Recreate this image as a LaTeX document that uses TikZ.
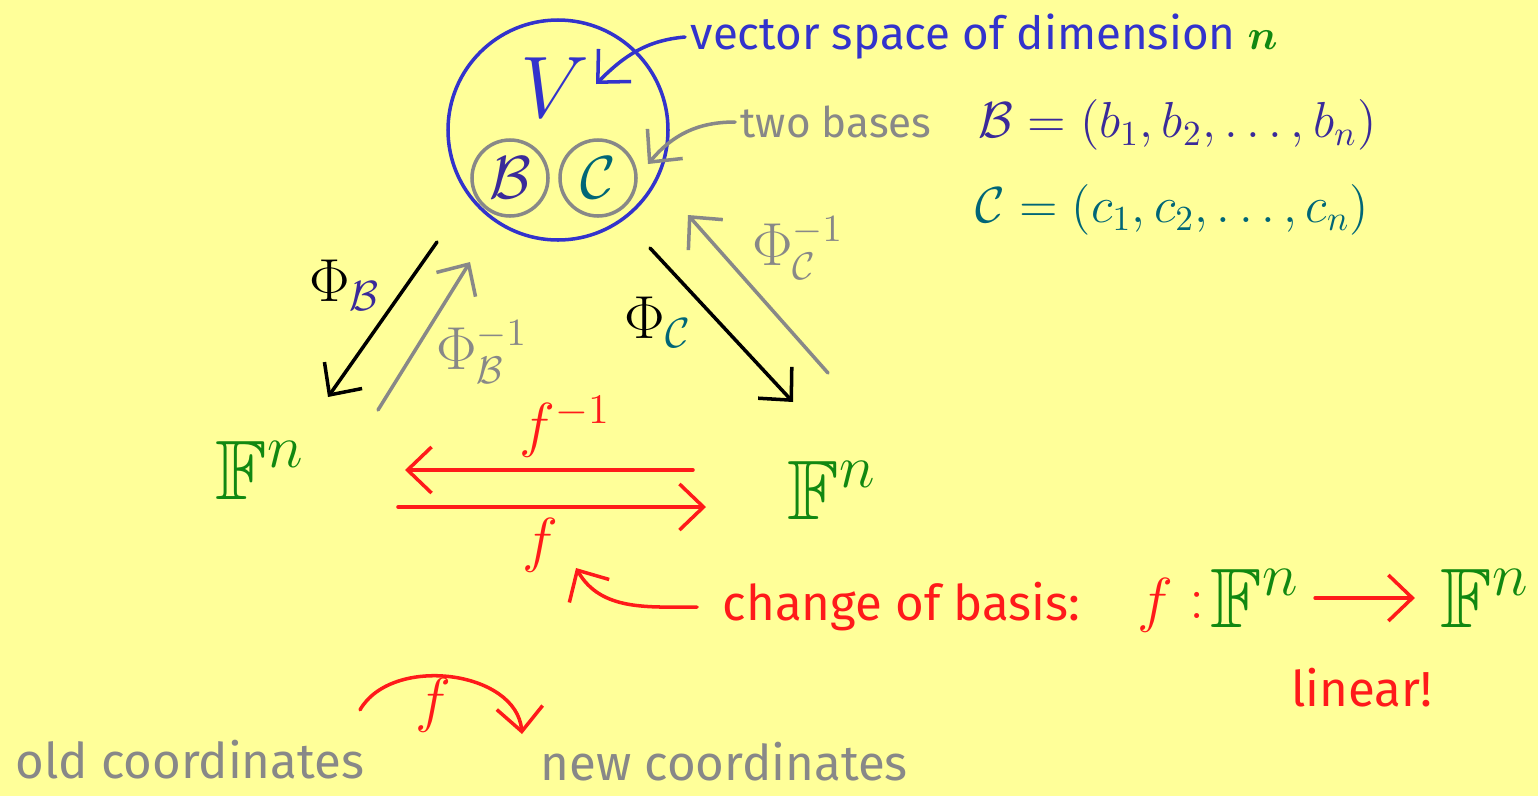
\documentclass[tikz,border=0pt]{standalone}
\usepackage{amsmath,amssymb}
\usepackage{fontspec}
\setmainfont{Fira Sans}
\usetikzlibrary{arrows.meta}
\definecolor{bgyellow}{HTML}{FFFF99}
\definecolor{vblue}{HTML}{3333CC}
\definecolor{bpurple}{HTML}{3A2A9A}
\definecolor{cteal}{HTML}{006677}
\definecolor{fgreen}{HTML}{118811}
\definecolor{fred}{HTML}{FF1A1A}
\definecolor{ggrey}{HTML}{888888}
\tikzset{
	hand/.style={line width=1pt, line cap=round, -{Straight Barb[length=2.4mm,width=4.6mm]}},
	note/.style={font=\fontsize{12}{14}\selectfont, inner sep=0pt},
	big/.style={font=\fontsize{24}{28}\selectfont, inner sep=0pt},
	mid/.style={font=\fontsize{18}{22}\selectfont, inner sep=0pt}
}
\begin{document}
\begin{tikzpicture}
	\fill[bgyellow] (0,0) rectangle (15.38,-7.96);
	\useasboundingbox (0,0) rectangle (15.38,-7.96);
	% vector space and its two bases
	\node[draw=vblue, line width=1pt, circle, minimum size=2.2cm] (V) at (5.58,-1.30) {};
	\node[big, text=vblue] (Vlab) at (5.55,-0.88) {$V$};
	\node[draw=ggrey, line width=1pt, circle, minimum size=0.76cm, inner sep=0pt, mid, text=bpurple] (cB) at (5.10,-1.78) {$\mathcal{B}$};
	\node[draw=ggrey, line width=1pt, circle, minimum size=0.76cm, inner sep=0pt, mid, text=cteal] (cC) at (5.98,-1.78) {$\mathcal{C}$};
	\node[note, text=vblue, anchor=west, font=\fontsize{13}{15}\selectfont] (vs) at (6.90,-0.37) {vector space of dimension \textcolor{fgreen}{$\boldsymbol{n}$}};
	\node[note, text=ggrey, anchor=west] (tb) at (7.40,-1.22) {two bases};
	\coordinate (vsend) at (5.96,-0.84);
	\coordinate (tbend) at (6.48,-1.64);
	\draw[hand, vblue] ([xshift=-0.05cm]vs.west) to[out=185,in=45] (vsend);
	\draw[hand, ggrey] ([xshift=-0.05cm]tb.west) to[out=180,in=50] (tbend);
	\node[mid, text=bpurple, anchor=west, font=\fontsize{14.5}{18}\selectfont] (Bl) at (9.78,-1.25) {$\mathcal{B} = (b_1, b_2, \dots, b_n)$};
	\node[mid, text=cteal, anchor=west, font=\fontsize{14.5}{18}\selectfont] (Cl) at (9.75,-2.10) {$\mathcal{C} = (c_1, c_2, \dots, c_n)$};
	% coordinate spaces
	\node[big, text=fgreen] (Fl) at (2.60,-4.70) {$\mathbb{F}^n$};
	\node[big, text=fgreen] (Fr) at (8.32,-4.90) {$\mathbb{F}^n$};
	\coordinate (pB1) at (4.37,-2.42); \coordinate (pB2) at (3.28,-3.97);
	\coordinate (qB1) at (3.78,-4.10); \coordinate (qB2) at (4.70,-2.62);
	\coordinate (pC1) at (6.50,-2.48); \coordinate (pC2) at (7.93,-4.02);
	\coordinate (qC1) at (8.28,-3.73); \coordinate (qC2) at (6.88,-2.15);
	\draw[hand, black] (pB1) -- (pB2);
	\draw[hand, ggrey] (qB1) -- (qB2);
	\draw[hand, black] (pC1) -- (pC2);
	\draw[hand, ggrey] (qC1) -- (qC2);
	\node[mid] (phiB) at (3.45,-2.85) {$\Phi_{\textcolor{bpurple}{\mathcal{B}}}$};
	\node[mid, text=ggrey, font=\fontsize{16}{20}\selectfont] (phiBi) at (4.82,-3.52) {$\Phi_{\mathcal{B}}^{-1}$};
	\node[mid] (phiC) at (6.58,-3.22) {$\Phi_{\textcolor{cteal}{\mathcal{C}}}$};
	\node[mid, text=ggrey, font=\fontsize{16}{20}\selectfont] (phiCi) at (7.98,-2.48) {$\Phi_{\mathcal{C}}^{-1}$};
	% change of basis map
	\coordinate (fi1) at (6.93,-4.70); \coordinate (fi2) at (4.05,-4.70);
	\coordinate (f1) at (3.98,-5.07); \coordinate (f2) at (7.06,-5.07);
	\draw[hand, fred] (fi1) -- (fi2);
	\draw[hand, fred] (f1) -- (f2);
	\node[mid, text=fred, anchor=south] (finv) at (5.65,-4.58) {$f^{-1}$};
	\node[mid, text=fred] (flab) at (5.40,-5.45) {$f$};
	\coordinate (cbend) at (5.76,-5.68);
	\node[note, text=fred, anchor=west, font=\fontsize{14}{16}\selectfont] (cb) at (7.22,-6.07) {change of basis:};
	\draw[hand, fred] ([xshift=-0.25cm]cb.west) to[out=180,in=-60] (cbend);
	\node[mid, text=fred] (mf) at (11.55,-6.05) {$f$};
	\node[mid, text=fred] (mcol) at (11.97,-6.05) {$:$};
	\node[big, text=fgreen] (Fa) at (12.55,-5.98) {$\mathbb{F}^n$};
	\node[big, text=fgreen] (Fb) at (14.85,-5.98) {$\mathbb{F}^n$};
	\draw[hand, fred] ([xshift=0.15cm]Fa.east) -- ([xshift=-0.25cm]Fb.west);
	\node[note, text=fred, font=\fontsize{14}{16}\selectfont] (lin) at (13.62,-6.88) {linear!};
	% old and new coordinates
	\node[note, text=ggrey, anchor=west, font=\fontsize{14}{17}\selectfont] (old) at (0.15,-7.60) {old coordinates};
	\node[note, text=ggrey, anchor=west, font=\fontsize{14}{17}\selectfont] (new) at (5.40,-7.62) {new coordinates};
	\coordinate (oldend) at (5.22,-7.34);
	\draw[hand, fred] ([shift={(-0.05,0.30)}]old.north east) to[out=60,in=95] (oldend);
	\node[mid, text=fred] (fo) at (4.33,-7.05) {$f$};
\end{tikzpicture}
\end{document}
